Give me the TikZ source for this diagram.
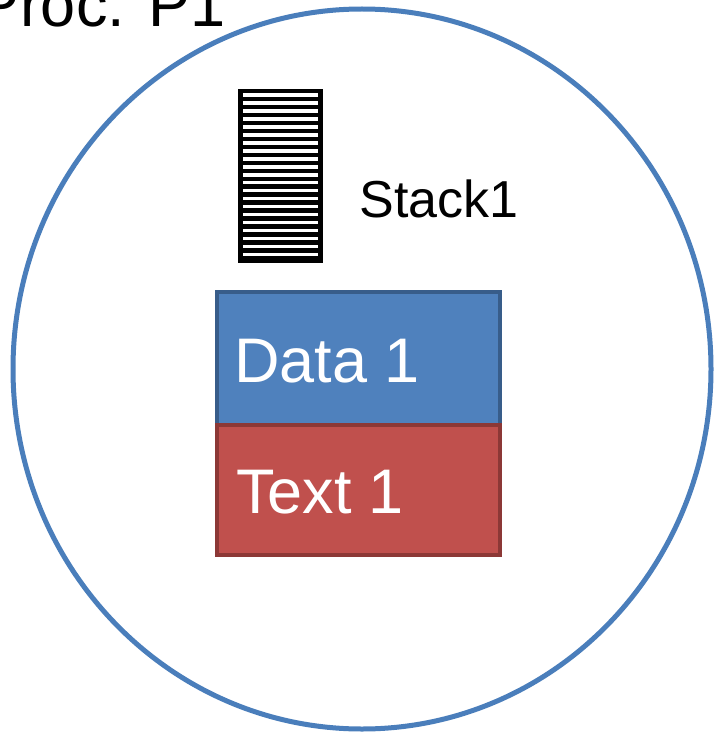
\documentclass[tikz,border=0pt]{standalone}
\usepackage{fontspec}
\setmainfont{Liberation Sans}
\usetikzlibrary{positioning,shapes.geometric}
\definecolor{procblue}{HTML}{4A7EBB}
\definecolor{datafill}{HTML}{4F81BD}
\definecolor{dataline}{HTML}{385D8A}
\definecolor{textfill}{HTML}{C0504D}
\definecolor{textline}{HTML}{8C3836}

\begin{document}
\begin{tikzpicture}[x=1pt, y=-1pt, every node/.style={inner sep=0pt, outer sep=0pt}]
\tikzset{
  segbox/.style={draw, line width=4pt, minimum width=283pt, anchor=north west},
  biglabel/.style={font=\fontsize{63}{70}\selectfont, anchor=base west},
  stacklabel/.style={font=\fontsize{52}{60}\selectfont, anchor=base west}
}
\useasboundingbox (0,0) rectangle (713,733);
\node[draw=procblue, line width=5pt, ellipse, minimum width=698pt, minimum height=720pt] (proc) at (362,369) {};
\node[biglabel] (proclabel) at (-22,27) {Proc. P1};
% stack with stripes
\node[fill=black, minimum width=85pt, minimum height=174pt, anchor=north west] (stack) at (238,89) {};
\foreach \i in {0,...,20} {
  \fill[white] (243,{93.5+\i*7.95}) rectangle (318,{97+\i*7.95});
}
\node[stacklabel] (stacklabel) at (359.5,217) {Stack1};
% data and text segments
\node[segbox, draw=dataline, fill=datafill, minimum height=133pt] (data) at (217,292) {};
\node[segbox, draw=textline, fill=textfill, minimum height=130pt] (text) at (217,425) {};
\node[biglabel, text=white] (datalabel) at (234,382) {Data 1};
\node[biglabel, text=white] (textlabel) at (236,513) {Text 1};
\end{tikzpicture}
\end{document}
